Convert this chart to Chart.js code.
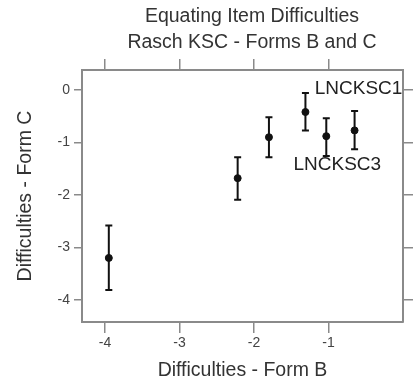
<!DOCTYPE html>
<html>
<head>
<meta charset="utf-8">
<script src="https://cdn.jsdelivr.net/npm/chart.js@4/dist/chart.umd.min.js"></script>
<style>
  html, body { margin: 0; padding: 0; background: #fff; }
  #wrap { width: 413px; height: 385px; }
</style>
</head>
<body>
<div id="wrap"><canvas id="chart" width="413" height="385"></canvas></div>
<script>
// Item difficulties, Form B (x) vs Form C (y), with error bars
const formB = [-3.95, -2.22, -1.80, -1.31, -1.03, -0.65];
const formC = [-3.20, -1.68, -0.90, -0.42, -0.88, -0.77];
const formCHigh = [-2.58, -1.28, -0.52, -0.06, -0.54, -0.40];
const formCLow = [-3.81, -2.09, -1.28, -0.77, -1.26, -1.13];
const pointNames = ['', '', '', '', 'LNCKSC3', 'LNCKSC1'];

const xTicks = [-4, -3, -2, -1];
const yTicks = [0, -1, -2, -3, -4];
const titleLines = ['Equating Item Difficulties', 'Rasch KSC - Forms B and C'];

const FONT = 'Arial, "Liberation Sans", Helvetica, sans-serif';
const axisGray = '#8a8a8a';
const textGray = '#444';

// label placement relative to its point (px)
const labelOffsets = { 'LNCKSC1': [4, -42], 'LNCKSC3': [11, 29] };

const errorBars = {
    id: 'errorBars',
    afterDatasetsDraw(chart) {
        const ctx = chart.ctx;
        const xs = chart.scales.x, ys = chart.scales.y;
        ctx.save();
        ctx.strokeStyle = '#111';
        ctx.lineWidth = 2;
        formB.forEach((b, i) => {
            const px = xs.getPixelForValue(b);
            const top = ys.getPixelForValue(formCHigh[i]);
            const bot = ys.getPixelForValue(formCLow[i]);
            ctx.beginPath();
            ctx.moveTo(px, top); ctx.lineTo(px, bot);
            ctx.moveTo(px - 3.5, top); ctx.lineTo(px + 3.5, top);
            ctx.moveTo(px - 3.5, bot); ctx.lineTo(px + 3.5, bot);
            ctx.stroke();
        });
        // point names
        ctx.fillStyle = '#222';
        ctx.font = '19px ' + FONT;
        ctx.textAlign = 'center';
        ctx.textBaseline = 'middle';
        pointNames.forEach((name, i) => {
            if (!name) return;
            const off = labelOffsets[name];
            ctx.fillText(name, xs.getPixelForValue(formB[i]) + off[0], ys.getPixelForValue(formC[i]) + off[1]);
        });
        ctx.restore();
    }
};

const titleBlock = {
    id: 'titleBlock',
    afterDraw(chart) {
        const ctx = chart.ctx;
        ctx.save();
        ctx.fillStyle = '#333';
        ctx.font = '19.5px ' + FONT;
        ctx.textAlign = 'center';
        ctx.textBaseline = 'middle';
        ctx.fillText(titleLines[0], 252, 17);
        ctx.fillText(titleLines[1], 252, 43);
        ctx.restore();
    }
};

function fixedTicks(list) {
    return function(scale) {
        scale.ticks = list.map(v => ({ value: v }));
    };
}

const tickFont = { family: FONT, size: 14 };
const titleFont = { family: FONT, size: 19.5 };

new Chart(document.getElementById('chart'), {
    type: 'scatter',
    data: {
        datasets: [{
            data: formB.map((b, i) => ({ x: b, y: formC[i] })),
            backgroundColor: '#111',
            borderColor: '#111',
            pointRadius: 3.5,
            pointHoverRadius: 3.5
        }]
    },
    options: {
        responsive: false,
        animation: false,
        layout: { padding: { top: 58, left: 0, right: 0, bottom: 0 } },
        plugins: {
            legend: { display: false },
            tooltip: { enabled: false },
            title: { display: false }
        },
        scales: {
            x: {
                type: 'linear',
                position: 'bottom',
                min: -4.31,
                max: 0,
                afterBuildTicks: fixedTicks(xTicks),
                afterFit: s => { s.height = 63; },
                ticks: { font: tickFont, color: textGray, padding: 2 },
                grid: { drawOnChartArea: false, tickLength: 11, color: axisGray, lineWidth: 1.5 },
                border: { color: axisGray, width: 2 },
                title: { display: true, text: 'Difficulties - Form B', font: titleFont, color: '#333', padding: { top: 0, bottom: 3 } }
            },
            x2: {
                type: 'linear',
                position: 'top',
                min: -4.31,
                max: 0,
                afterBuildTicks: fixedTicks(xTicks),
                afterFit: s => { s.height = 12; },
                ticks: { display: false },
                grid: { drawOnChartArea: false, tickLength: 11, color: axisGray, lineWidth: 1.5 },
                border: { color: axisGray, width: 2 }
            },
            y: {
                type: 'linear',
                position: 'left',
                min: -4.42,
                max: 0.38,
                afterBuildTicks: fixedTicks(yTicks),
                afterFit: s => { s.width = 82; },
                ticks: { font: tickFont, color: textGray, padding: 4 },
                grid: { drawOnChartArea: false, tickLength: 8, color: axisGray, lineWidth: 1.5 },
                border: { color: axisGray, width: 2 },
                title: { display: true, text: 'Difficulties - Form C', font: titleFont, color: '#333', padding: { top: 14, bottom: 0 } }
            },
            y2: {
                type: 'linear',
                position: 'right',
                min: -4.42,
                max: 0.38,
                afterBuildTicks: fixedTicks(yTicks),
                afterFit: s => { s.width = 10; },
                ticks: { display: false },
                grid: { drawOnChartArea: false, tickLength: 10, color: axisGray, lineWidth: 1.5 },
                border: { color: axisGray, width: 2 }
            }
        }
    },
    plugins: [errorBars, titleBlock]
});
</script>
</body>
</html>
